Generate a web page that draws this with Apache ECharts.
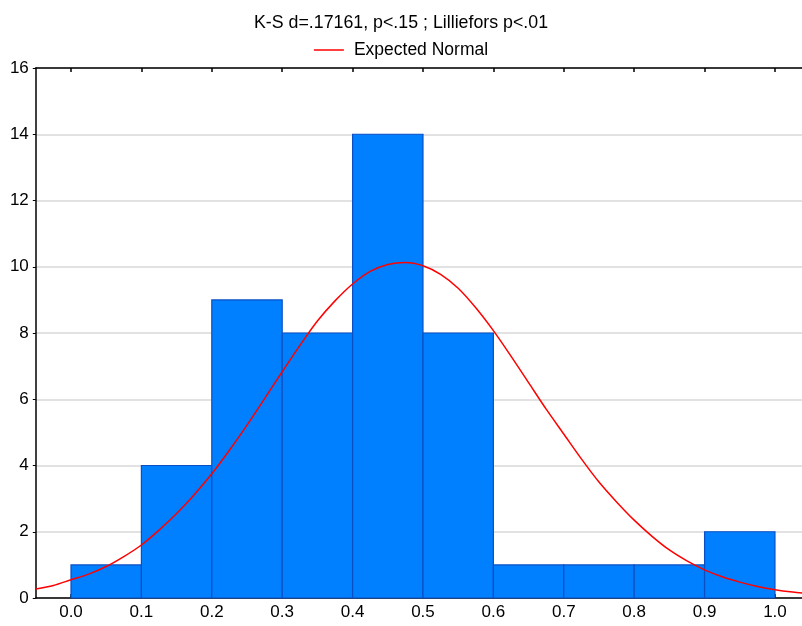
<!DOCTYPE html>
<html>
<head>
<meta charset="utf-8">
<script src="https://cdn.jsdelivr.net/npm/echarts@6/dist/echarts.min.js"></script>
<style>html,body{margin:0;padding:0;background:#fff}#c{width:802px;height:626px}</style>
</head>
<body>
<div id="c"></div>
<script>
// Histogram bins (lower edge, upper edge) and counts
const binStarts = [0.0, 0.1, 0.2, 0.3, 0.4, 0.5, 0.6, 0.7, 0.8, 0.9];
const binEnds   = [0.1, 0.2, 0.3, 0.4, 0.5, 0.6, 0.7, 0.8, 0.9, 1.0];
const counts    = [1, 4, 9, 8, 14, 8, 1, 1, 1, 2];

// Expected normal curve, every 0.025
const curveX = [-0.05, -0.025, 0.0, 0.025, 0.05, 0.075, 0.10, 0.125, 0.15, 0.175, 0.20, 0.225, 0.25, 0.275, 0.30, 0.325, 0.35, 0.375, 0.40, 0.425, 0.45, 0.475, 0.50, 0.525, 0.55, 0.575, 0.60, 0.625, 0.65, 0.675, 0.70, 0.725, 0.75, 0.775, 0.80, 0.825, 0.85, 0.875, 0.90, 0.925, 0.95, 0.975, 1.00, 1.025, 1.05];
const curveY = [0.27, 0.38, 0.55, 0.72, 0.95, 1.25, 1.6, 2.05, 2.55, 3.12, 3.75, 4.46, 5.22, 6.02, 6.83, 7.62, 8.36, 8.97, 9.48, 9.86, 10.07, 10.13, 10.03, 9.77, 9.35, 8.76, 8.07, 7.3, 6.5, 5.7, 4.95, 4.2, 3.5, 2.9, 2.35, 1.87, 1.45, 1.12, 0.85, 0.64, 0.48, 0.35, 0.25, 0.18, 0.13];

// Tick labels
const xTicks = [0.0, 0.1, 0.2, 0.3, 0.4, 0.5, 0.6, 0.7, 0.8, 0.9, 1.0];

const titleText = 'K-S d=.17161, p<.15 ; Lilliefors p<.01';
const seriesName = 'Expected Normal';

const barData = binStarts.map((s, i) => [s, binEnds[i], counts[i]]);
const lineData = curveX.map((x, i) => [x, curveY[i]]);

const FONT = 'Liberation Sans, Arial, sans-serif';
const FS = 17;
const chart = echarts.init(document.getElementById('c'), null, {renderer: 'canvas'});
chart.setOption({
  animation: false,
  backgroundColor: '#fff',
  title: {
    text: titleText,
    left: 'center',
    top: 9,
    textStyle: {fontFamily: FONT, fontSize: 17.8, fontWeight: 'normal', color: '#000'}
  },
  legend: {
    data: [seriesName],
    top: 36,
    left: 'center',
    icon: 'rect',
    itemWidth: 30,
    itemHeight: 1.5,
    itemGap: 8,
    textStyle: {fontFamily: FONT, fontSize: 17.5, color: '#000', padding: [0, 0, 0, 5]}
  },
  grid: {left: 35.8, top: 68, right: 0, bottom: 28, containLabel: false},
  xAxis: [
    {
      type: 'value', min: -0.05, max: 1.0384, position: 'bottom',
      axisLine: {show: true, onZero: false, lineStyle: {color: '#000', width: 1.5}},
      axisTick: {show: true, inside: true, length: 4, customValues: xTicks, lineStyle: {color: '#000', width: 1.5}},
      axisLabel: {customValues: xTicks, formatter: v => v.toFixed(1), margin: 6,
        fontFamily: FONT, fontSize: FS, color: '#000'},
      splitLine: {show: false}
    },
    {
      type: 'value', min: -0.05, max: 1.0384, position: 'top',
      axisLine: {show: true, onZero: false, lineStyle: {color: '#000', width: 1.5}},
      axisTick: {show: true, inside: true, length: 4, customValues: xTicks, lineStyle: {color: '#000', width: 1.5}},
      axisLabel: {show: false},
      splitLine: {show: false}
    }
  ],
  yAxis: {
    type: 'value', min: 0, max: 16, interval: 2,
    axisLine: {show: true, onZero: false, lineStyle: {color: '#000', width: 1.5}},
    axisTick: {show: true, length: 3, lineStyle: {color: '#000', width: 1}},
    axisLabel: {margin: 7, fontFamily: FONT, fontSize: FS, color: '#000'},
    splitLine: {show: true, lineStyle: {color: '#d9d9d9', width: 1.5}}
  },
  series: [
    {
      type: 'custom',
      xAxisIndex: 0,
      silent: true,
      data: barData,
      encode: {x: [0, 1], y: 2},
      renderItem: function (params, api) {
        const p0 = api.coord([api.value(0), 0]);
        const p1 = api.coord([api.value(1), api.value(2)]);
        return {
          type: 'rect',
          shape: {x: p0[0], y: p1[1], width: p1[0] - p0[0], height: p0[1] - p1[1]},
          style: {fill: '#0080ff', stroke: '#0a4fc4', lineWidth: 1.2}
        };
      },
      z: 2
    },
    {
      name: seriesName,
      type: 'line',
      xAxisIndex: 0,
      data: lineData,
      smooth: 0.3,
      symbol: 'none',
      lineStyle: {color: '#ff0000', width: 1.5},
      itemStyle: {color: '#ff0000'},
      z: 3
    }
  ]
});
</script>
</body>
</html>
